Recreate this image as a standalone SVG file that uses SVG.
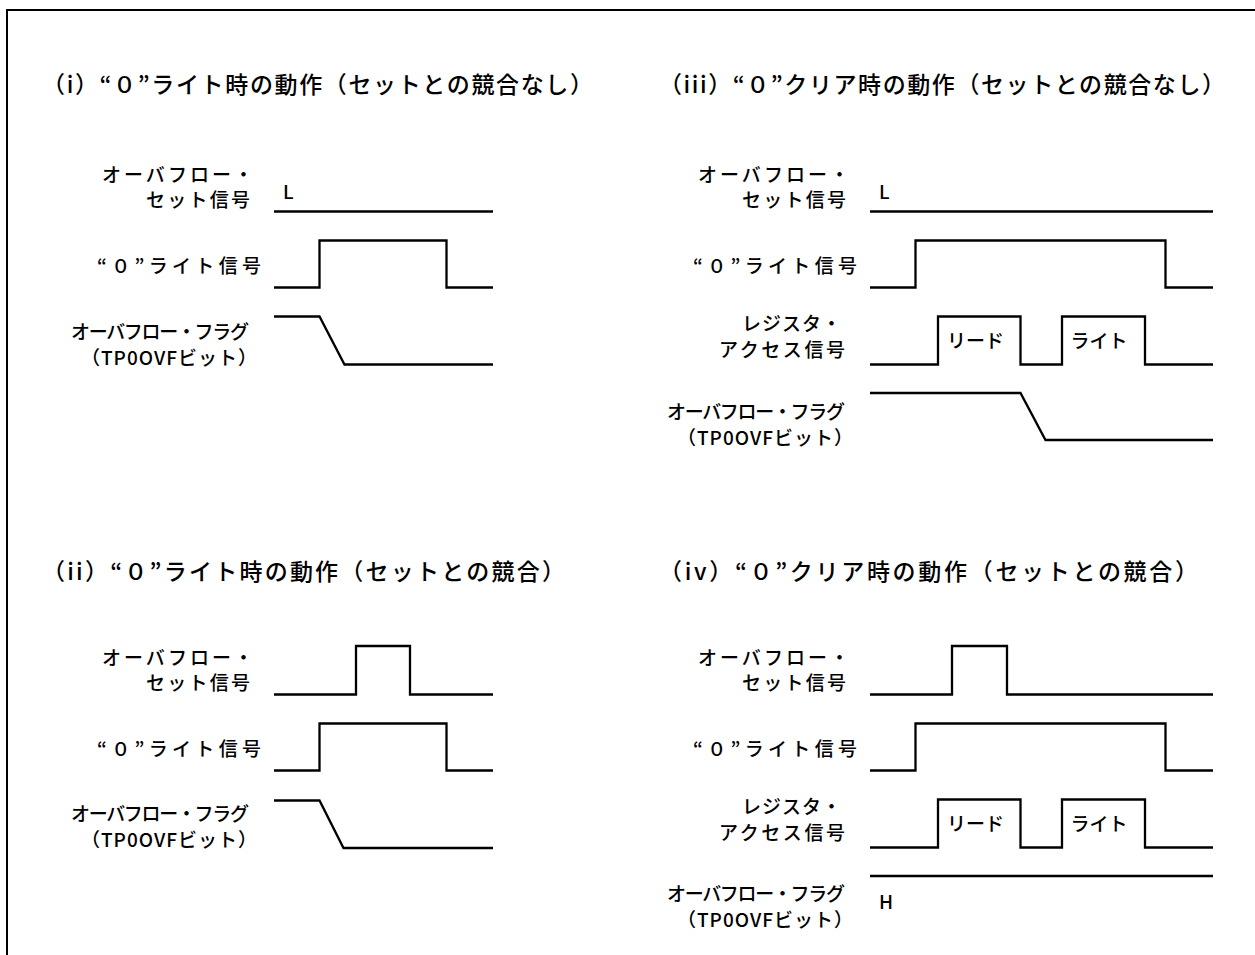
<svg xmlns="http://www.w3.org/2000/svg" width="1255" height="955" viewBox="0 0 1255 955">
<style>
.t{font-family:"Noto Sans CJK JP","Noto Sans",sans-serif;font-size:23px;font-weight:500;fill:#000}
.l{font-family:"Noto Sans CJK JP","Noto Sans",sans-serif;font-size:19px;font-weight:500;fill:#000}
.w{fill:none;stroke:#000;stroke-width:2.3;stroke-linejoin:miter}
.f{fill:none;stroke:#000;stroke-width:2}
</style>
<rect width="1255" height="955" fill="#fff"/>
<path class="f" d="M7,955 V10 H1255"/>

<g id="panel-i">
<text class="t" x="42" y="93" textLength="551" lengthAdjust="spacing">（i）“０”ライト時の動作（セットとの競合なし）</text>
<text class="l" x="102" y="182" textLength="151" lengthAdjust="spacing">オーバフロー・</text>
<text class="l" x="146" y="207" textLength="104" lengthAdjust="spacing">セット信号</text>
<text class="l" x="97" y="273" textLength="164" lengthAdjust="spacing">“０”ライト信号</text>
<text class="l" x="71" y="339" textLength="178" lengthAdjust="spacing">オーバフロー・フラグ</text>
<text class="l" x="81" y="365" textLength="176" lengthAdjust="spacing">（TP0OVFビット）</text>
<text class="l" x="283" y="199">L</text>
<path class="w" d="M274,211.5 H493"/>
<path class="w" d="M274,287.5 H319.5 V240.5 H446.5 V287.5 H493"/>
<path class="w" d="M274,316.5 H319.5 L344.5,364.5 H493"/>
</g>

<g id="panel-iii">
<text class="t" x="659" y="93" textLength="566" lengthAdjust="spacing">（iii）“０”クリア時の動作（セットとの競合なし）</text>
<text class="l" x="698" y="182" textLength="151" lengthAdjust="spacing">オーバフロー・</text>
<text class="l" x="742" y="207" textLength="104" lengthAdjust="spacing">セット信号</text>
<text class="l" x="693" y="273" textLength="164" lengthAdjust="spacing">“０”ライト信号</text>
<text class="l" x="742" y="331" textLength="99" lengthAdjust="spacing">レジスタ・</text>
<text class="l" x="719" y="357" textLength="126" lengthAdjust="spacing">アクセス信号</text>
<text class="l" x="667" y="419" textLength="178" lengthAdjust="spacing">オーバフロー・フラグ</text>
<text class="l" x="677" y="445" textLength="176" lengthAdjust="spacing">（TP0OVFビット）</text>
<text class="l" x="879" y="199">L</text>
<text class="l" x="975.5" y="348" text-anchor="middle">リード</text>
<text class="l" x="1099" y="348" text-anchor="middle">ライト</text>
<path class="w" d="M870,211.5 H1213"/>
<path class="w" d="M870,287.5 H915.5 V240.5 H1165.5 V287.5 H1213"/>
<path class="w" d="M870,364.5 H938 V316.5 H1020.5 V364.5 H1062 V316.5 H1145 V364.5 H1213"/>
<path class="w" d="M870,393 H1020.5 L1045.5,440 H1213"/>
</g>

<g id="panel-ii">
<text class="t" x="42" y="580" textLength="523" lengthAdjust="spacing">（ii）“０”ライト時の動作（セットとの競合）</text>
<text class="l" x="102" y="665" textLength="151" lengthAdjust="spacing">オーバフロー・</text>
<text class="l" x="146" y="690" textLength="104" lengthAdjust="spacing">セット信号</text>
<text class="l" x="97" y="756" textLength="164" lengthAdjust="spacing">“０”ライト信号</text>
<text class="l" x="71" y="821" textLength="178" lengthAdjust="spacing">オーバフロー・フラグ</text>
<text class="l" x="81" y="847" textLength="176" lengthAdjust="spacing">（TP0OVFビット）</text>
<path class="w" d="M274,694.5 H356 V646 H410 V694.5 H493"/>
<path class="w" d="M274,770.5 H319.5 V723.5 H446.5 V770.5 H493"/>
<path class="w" d="M274,800.5 H319.5 L343.5,848 H493"/>
</g>

<g id="panel-iv">
<text class="t" x="659" y="580" textLength="539" lengthAdjust="spacing">（iv）“０”クリア時の動作（セットとの競合）</text>
<text class="l" x="698" y="665" textLength="151" lengthAdjust="spacing">オーバフロー・</text>
<text class="l" x="742" y="690" textLength="104" lengthAdjust="spacing">セット信号</text>
<text class="l" x="693" y="756" textLength="164" lengthAdjust="spacing">“０”ライト信号</text>
<text class="l" x="742" y="814" textLength="99" lengthAdjust="spacing">レジスタ・</text>
<text class="l" x="719" y="840" textLength="126" lengthAdjust="spacing">アクセス信号</text>
<text class="l" x="667" y="901" textLength="178" lengthAdjust="spacing">オーバフロー・フラグ</text>
<text class="l" x="677" y="927" textLength="176" lengthAdjust="spacing">（TP0OVFビット）</text>
<text class="l" x="879" y="909">H</text>
<text class="l" x="975.5" y="831" text-anchor="middle">リード</text>
<text class="l" x="1099" y="831" text-anchor="middle">ライト</text>
<path class="w" d="M870,694.5 H952 V646 H1007 V694.5 H1213"/>
<path class="w" d="M870,770.5 H915.5 V723.5 H1165.5 V770.5 H1213"/>
<path class="w" d="M870,847.5 H938 V799.5 H1020.5 V847.5 H1062 V799.5 H1145 V847.5 H1213"/>
<path class="w" d="M870,876 H1213"/>
</g>
</svg>
